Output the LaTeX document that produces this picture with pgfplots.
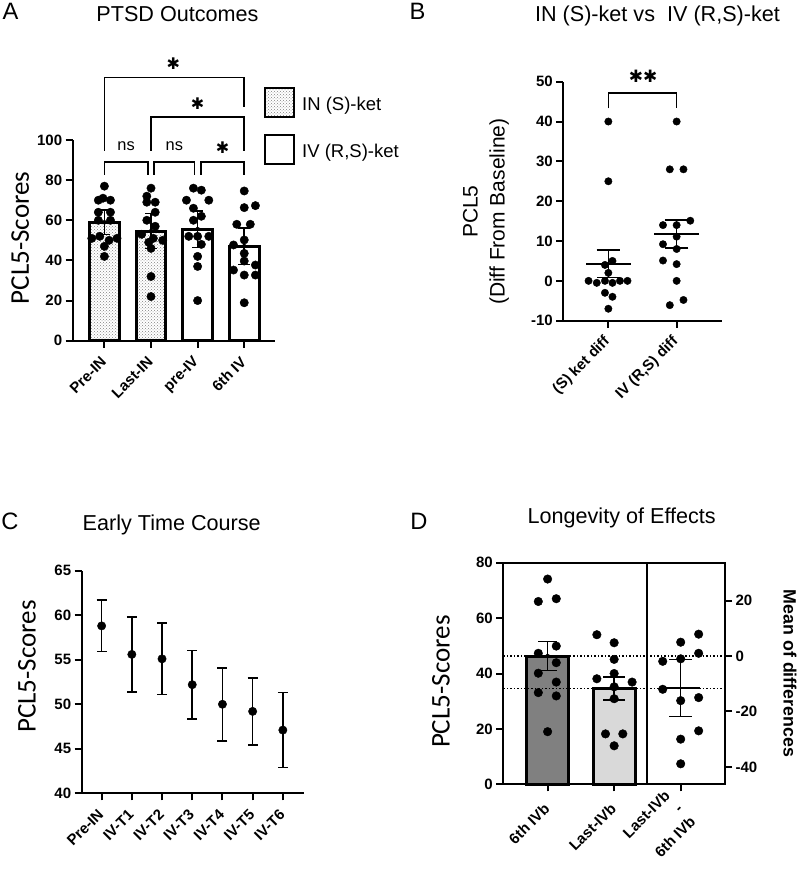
\documentclass[border=0pt]{standalone}
\usepackage{fontspec}
\setmainfont{Liberation Sans}
\newfontfamily\carlito{Carlito}
\newfontfamily\dejavu{DejaVu Sans}
\usepackage{pgfplots}
\pgfplotsset{compat=1.18}
\usetikzlibrary{patterns}
\newcommand{\fs}[2]{\fontsize{#1}{#2}\selectfont}
\definecolor{darkbar}{RGB}{128,128,128}
\definecolor{lightbar}{RGB}{217,217,217}
\pgfplotsset{
  gp/.style={
    scale only axis, clip=false, anchor=south west,
    axis x line*=bottom, axis y line*=left,
    axis line style={line width=2pt, black},
    tick align=outside, major tick length=7pt,
    tick style={line width=2pt, black},
    ticklabel style={font=\bfseries\fs{15}{18}},
    /pgf/number format/assume math mode=true,
    xticklabel style={rotate=45, anchor=east, inner sep=1pt},
    xticklabel shift=11pt,
  },
  dot/.style={only marks, mark=*, mark size=#1, black, mark options={fill=black, draw=none}, forget plot},
  carlab/.style 2 args={every axis y label/.style={at={(axis description cs:#1,#2)}, rotate=90, anchor=center, font=\carlito\fs{27}{30}}},
  ebar/.style={error bars/.cd, y dir=both, y explicit,
    error bar style={line width=1.5pt, black},
    error mark options={rotate=90, mark size=#1, line width=1.5pt, black}},
}
\begin{document}
\begin{tikzpicture}
\path[use as bounding box] (0pt,0pt) rectangle (800pt,873pt);

% ---------------- Panel A ----------------
\begin{axis}[gp, at={(72.7pt,532.3pt)}, width=202.3pt, height=200.7pt,
  xmin=-0.68, xmax=3.66, ymin=0, ymax=100, ytick={0,20,...,100},
  xtick={0,1,2,3}, xticklabels={Pre-IN,Last-IN,pre-IV,6th IV},
  carlab={-0.26}{0.512}, ylabel={PCL5-Scores},
  legend style={at={(rel axis cs:0.9456,1.264)}, anchor=north west, draw=none, fill=none,
    font=\fs{18.5}{22}, row sep=16pt, column sep=7pt, inner sep=0pt, nodes={inner sep=0pt}},
  legend cell align=left]
\addplot[ybar, bar width=29.7pt, bar shift=0pt, draw=black, line width=3pt, pattern=crosshatch dots, pattern color=gray, forget plot]
  coordinates {(0,59) (1,54.6)};
\addplot[ybar, bar width=29.7pt, bar shift=0pt, draw=black, line width=3pt, fill=white, forget plot]
  coordinates {(2,55.6) (3,47.1)};
\addplot[dot=4.2pt] coordinates {
 (0,77) (-0.03,71) (-0.13,70) (0.13,70) (-0.13,64) (0.13,64) (-0.13,60) (0.13,60)
 (-0.27,51) (-0.1,52) (0.1,50) (0.27,51) (0,47) (0,42)
 (1,76) (0.91,72) (0.91,69) (1.09,69) (1.09,64) (0.91,60) (1.09,57) (0.8,53) (1.05,51)
 (1.25,50) (0.95,49) (1,46) (1,32) (1,22)
 (1.91,76) (2.08,75) (1.76,70) (2.24,70) (1.91,66) (2.08,62) (1.91,60) (1.81,52) (2,52)
 (2.24,52) (2.08,48) (2,42) (2,37) (2,20)
 (3,74.6) (3.24,67.3) (3,66.3) (2.84,58) (3.13,58) (3,50.2) (2.77,47.7) (3,43.5) (3,39.7)
 (3.24,37.7) (2.77,35.2) (3.24,32.7) (3,32.7) (3,18.9)};
\addplot[only marks, mark=none, black, forget plot, ebar=5.8pt]
  coordinates {(0,59) +- (0,6.2) (1,54.6) +- (0,8.7) (2,55.6) +- (0,9.1) (3,47.1) +- (0,9.1)};
\addlegendimage{legend image code/.code={\draw[line width=2pt, pattern=crosshatch dots, pattern color=gray] (0pt,-12.7pt) rectangle (29pt,16.3pt);}}
\addlegendentry{IN (S)-ket}
\addlegendimage{legend image code/.code={\draw[line width=2pt, fill=white] (0pt,-12.7pt) rectangle (29pt,16.3pt);}}
\addlegendentry{IV (R,S)-ket}
% significance brackets
\draw[line width=1.7pt] (axis cs:0,82.6) -- (axis cs:0,89.2) -- (axis cs:0.93,89.2) -- (axis cs:0.93,82.6);
\draw[line width=1.7pt] (axis cs:1.07,82.6) -- (axis cs:1.07,89.2) -- (axis cs:1.93,89.2) -- (axis cs:1.93,82.6);
\draw[line width=1.7pt] (axis cs:2.07,82.6) -- (axis cs:2.07,89.2) -- (axis cs:3,89.2) -- (axis cs:3,82.6);
\draw[line width=1.7pt] (axis cs:1,94.7) -- (axis cs:1,111.3) -- (axis cs:3,111.3) -- (axis cs:3,94.7);
\draw[line width=1.7pt] (axis cs:0,94.7) -- (axis cs:0,131.2) -- (axis cs:3,131.2) -- (axis cs:3,116.6);
\node[font=\fs{16.4}{18}] at (axis cs:0.465,96.7) {ns};
\node[font=\fs{16.4}{18}] at (axis cs:1.5,96.7) {ns};
\node[font=\dejavu\fs{16}{18}, inner sep=0pt] at (axis cs:2.535,96.2) {✱};
\node[font=\dejavu\fs{16}{18}, inner sep=0pt] at (axis cs:1.998,117.9) {✱};
\node[font=\dejavu\fs{16}{18}, inner sep=0pt] at (axis cs:1.48,138.2) {✱};
\end{axis}

% ---------------- Panel B ----------------
\begin{axis}[gp, at={(563.3pt,552.3pt)}, width=158.4pt, height=239pt,
  xmin=-0.66, xmax=1.66, ymin=-10, ymax=50, ytick={-10,0,...,50},
  xtick={0,1}, xticklabels={(S) ket diff,{IV (R,S) diff}},
  every axis y label/.style={at={(axis description cs:-0.488,0.456)}, rotate=90, anchor=center, align=center, font=\fs{21}{27}},
  ylabel={PCL5\\(Diff From Baseline)}]
\addplot[dot=3.7pt] coordinates {
 (0,40) (0,25) (0.06,5) (-0.05,4) (0,2) (-0.29,0) (-0.17,-0.5) (-0.05,0) (0.06,-0.5) (0.17,0) (0.28,0)
 (-0.05,-3) (0.06,-4) (0,-7)
 (1,40) (0.9,28) (1.1,28) (1.2,15.1) (0.8,14) (1,14) (1,11.1) (0.8,9.2) (1,8) (0.8,5.1) (1,4.2)
 (1,0) (1.1,-4.8) (0.9,-6.1)};
\addplot[only marks, mark=-, mark size=22.5pt, mark options={line width=2pt}, black, forget plot, ebar=11.7pt]
  coordinates {(0,4.3) +- (0,3.4) (1,11.8) +- (0,3.5)};
\draw[line width=1.7pt] (axis cs:0,43.3) -- (axis cs:0,47.1) -- (axis cs:1,47.1) -- (axis cs:1,43.3);
\node[font=\dejavu\fs{17}{18}, inner sep=0pt] at (axis cs:0.51,51.3) {✱✱};
\end{axis}

% ---------------- Panel C ----------------
\begin{axis}[gp, at={(81.7pt,79.7pt)}, width=222.3pt, height=222.6pt,
  xmin=-0.66, xmax=6.7, ymin=40, ymax=65, ytick={40,45,...,65},
  xtick={0,...,6}, xticklabels={Pre-IN,IV-T1,IV-T2,IV-T3,IV-T4,IV-T5,IV-T6},
  carlab={-0.246}{0.569}, ylabel={PCL5-Scores}]
\addplot[only marks, mark=*, mark size=4.2pt, black, mark options={fill=black}, ebar=5pt]
  coordinates {(0,58.8) +- (0,2.9) (1,55.6) +- (0,4.2) (2,55.1) +- (0,4.0) (3,52.2) +- (0,3.85)
   (4,50.0) +- (0,4.1) (5,49.2) +- (0,3.75) (6,47.1) +- (0,4.2)};
\end{axis}

% ---------------- Panel D ----------------
\begin{axis}[gp, at={(503.3pt,88.7pt)}, width=221.7pt, height=221.6pt,
  axis x line*=box, axis y line*=box, xtick pos=left, ytick pos=left,
  xmin=-0.666, xmax=2.666, ymin=0, ymax=80, ytick={0,20,...,80},
  xtick={0,1,2}, xticklabels={6th IVb,Last-IVb,{Last-IVb\\-\\6th IVb}},
  xticklabel style={align=right}, xticklabel shift=14pt,
  carlab={-0.281}{0.463}, ylabel={PCL5-Scores}]
\addplot[ybar, bar width=41.7pt, bar shift=0pt, draw=black, line width=3pt, fill=darkbar, forget plot]
  coordinates {(0,46.3)};
\addplot[ybar, bar width=41.7pt, bar shift=0pt, draw=black, line width=3pt, fill=lightbar, forget plot]
  coordinates {(1,34.6)};
\addplot[dotted, line width=1.5pt, black, forget plot] coordinates {(-0.666,46.3) (2.666,46.3)};
\addplot[dotted, line width=1.5pt, black, forget plot] coordinates {(-0.666,34.6) (2.666,34.6)};
\addplot[line width=2pt, black, forget plot] coordinates {(1.5,0) (1.5,80)};
\addplot[dot=4.3pt] coordinates {
 (0,74.1) (-0.14,66) (0.13,67) (0.13,49.9) (-0.14,47.3) (0.13,43.9) (-0.14,40.1) (0.13,36.9)
 (-0.14,33.1) (0.13,31.9) (0,19)
 (0.74,54) (1,51.1) (1,45.1) (1,40) (0.74,38.1) (1.27,36.9) (1,35.2) (1,30.9) (0.87,18.2) (1.13,18.2) (1,13.9)};
\addplot[only marks, mark=none, black, forget plot, ebar=9.3pt]
  coordinates {(0,46.3) +- (0,5.2)};
\addplot[only marks, mark=none, black, forget plot, ebar=11pt]
  coordinates {(1,34.6) +- (0,4.15)};
\end{axis}
\begin{axis}[gp, at={(503.3pt,88.7pt)}, width=221.7pt, height=221.6pt,
  axis y line*=right, axis x line=none,
  xmin=-0.666, xmax=2.666, ymin=-46.3, ymax=33.7, ytick={-40,-20,0,20},
  every axis y label/.style={at={(axis description cs:1.293,0.5)}, rotate=-90, anchor=center, font=\bfseries\fs{17.8}{20}},
  ylabel={Mean of differences}]
\addplot[dot=4.3pt] coordinates {
 (2.27,7.9) (2,5) (2.27,1) (1.73,-1.9) (2,-1) (1.73,-12) (2,-16.1) (2.27,-15) (2.27,-27) (2,-30) (2,-38.9)};
\addplot[only marks, mark=-, mark size=19.2pt, mark options={line width=2pt}, black, forget plot, ebar=11.3pt]
  coordinates {(2,-11.6) +- (0,10.3)};
\end{axis}

% titles and panel letters
\node[font=\fs{21.6}{26}, anchor=base] at (177.5pt,851.3pt) {PTSD Outcomes};
\node[font=\fs{21.6}{26}, anchor=base] at (657.5pt,851.3pt) {IN (S)-ket vs\ \ IV (R,S)-ket};
\node[font=\fs{21.6}{26}, anchor=base] at (171.7pt,342pt) {Early Time Course};
\node[font=\fs{21.6}{26}, anchor=base] at (621.7pt,349.7pt) {Longevity of Effects};
\node[font=\fs{23.7}{28}, anchor=base] at (10.5pt,853pt) {A};
\node[font=\fs{23.7}{28}, anchor=base] at (417.5pt,853pt) {B};
\node[font=\fs{23.7}{28}, anchor=base] at (10pt,343pt) {C};
\node[font=\fs{23.7}{28}, anchor=base] at (419pt,343pt) {D};
\end{tikzpicture}
\end{document}
